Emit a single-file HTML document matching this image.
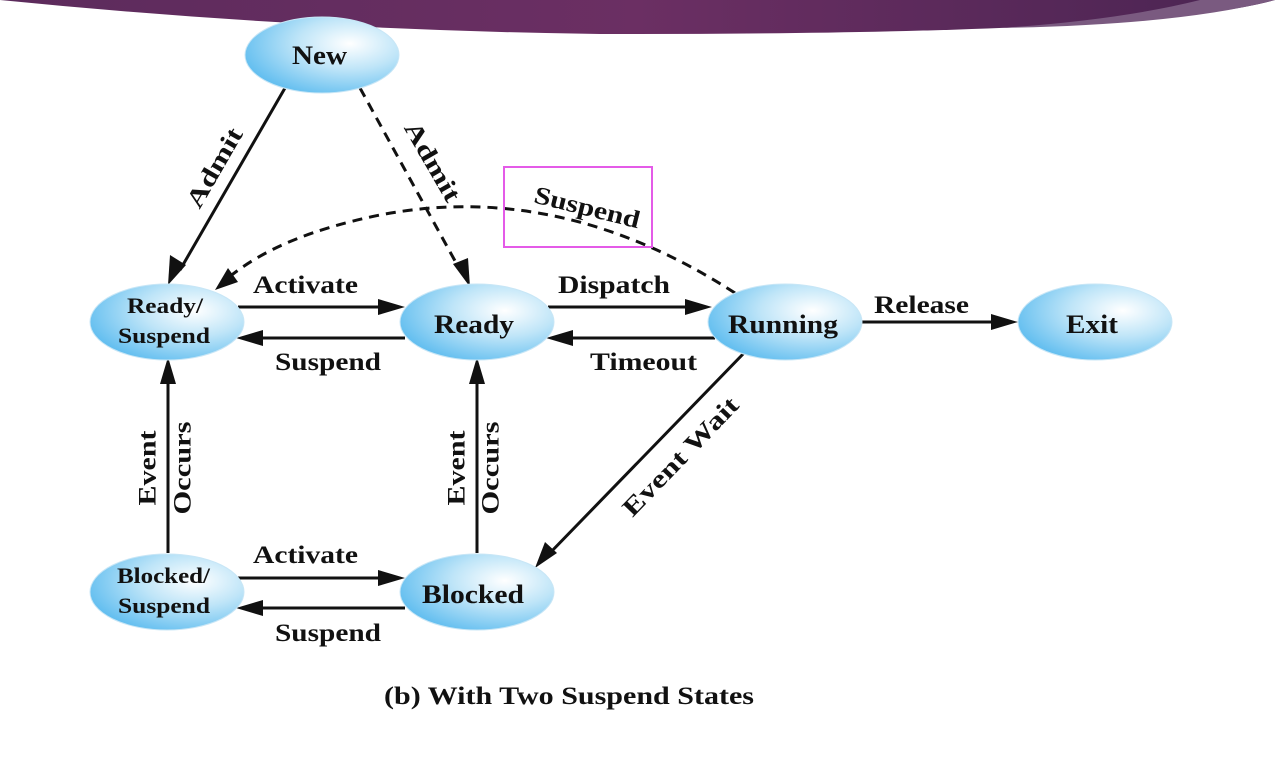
<!DOCTYPE html>
<html><head><meta charset="utf-8"><style>
body{margin:0;background:#fff;width:1280px;height:768px;overflow:hidden}
text{font-family:"Liberation Serif",serif;font-weight:bold;fill:#111}
</style></head><body>
<svg width="1280" height="768" viewBox="0 0 1280 768" xmlns="http://www.w3.org/2000/svg">
<defs>
<radialGradient id="g" cx="0.68" cy="0.35" r="0.75">
<stop offset="0" stop-color="#ffffff"/><stop offset="0.45" stop-color="#bfe5f8"/><stop offset="1" stop-color="#5dbcef"/>
</radialGradient>
<linearGradient id="p" x1="0" x2="1" y1="0" y2="0">
<stop offset="0" stop-color="#5c2b5c"/><stop offset="0.5" stop-color="#6b2f63"/><stop offset="1" stop-color="#4a2452"/>
</linearGradient>
</defs>
<path d="M0,0 L1275,0 Q1150,35 600,34 Q300,30 0,0 Z" fill="url(#p)"/>
<path d="M1000,28 Q1120,20 1200,0 L1275,0 Q1180,25 1000,28 Z" fill="#7a5a80"/>
<g stroke="#111" stroke-width="3" fill="none">
<line x1="285" y1="88" x2="180" y2="270"/>
<line x1="360" y1="88" x2="460" y2="270" stroke-dasharray="10,7"/>
<path d="M735,293 Q560,180 380,215 Q280,235 228,278" stroke-dasharray="10,7"/>
<line x1="238" y1="307" x2="385" y2="307"/>
<line x1="405" y1="338" x2="255" y2="338"/>
<line x1="548" y1="307" x2="695" y2="307"/>
<line x1="715" y1="338" x2="565" y2="338"/>
<line x1="860" y1="322" x2="1000" y2="322"/>
<line x1="745" y1="352" x2="548" y2="555"/>
<line x1="168" y1="553" x2="168" y2="375"/>
<line x1="477" y1="553" x2="477" y2="375"/>
<line x1="235" y1="578" x2="385" y2="578"/>
<line x1="405" y1="608" x2="255" y2="608"/>
</g>
<g fill="#111">
<polygon points="168,285 170,255 186,265"/>
<polygon points="470,287 453,264 468,258"/>
<polygon points="215,290 228,268 238,282"/>
<polygon points="405,307 378,299 378,315"/>
<polygon points="236,338 263,330 263,346"/>
<polygon points="712,307 685,299 685,315"/>
<polygon points="546,338 573,330 573,346"/>
<polygon points="1018,322 991,314 991,330"/>
<polygon points="535,568 545,542 557,553"/>
<polygon points="168,357 160,384 176,384"/>
<polygon points="477,357 469,384 485,384"/>
<polygon points="405,578 378,570 378,586"/>
<polygon points="236,608 263,600 263,616"/>
</g>
<g stroke="#c8e6f6" stroke-width="1">
<ellipse cx="322" cy="55" rx="77" ry="38" fill="url(#g)"/>
<ellipse cx="167" cy="322" rx="77" ry="38" fill="url(#g)"/>
<ellipse cx="477" cy="322" rx="77" ry="38" fill="url(#g)"/>
<ellipse cx="785" cy="322" rx="77" ry="38" fill="url(#g)"/>
<ellipse cx="1095" cy="322" rx="77" ry="38" fill="url(#g)"/>
<ellipse cx="167" cy="592" rx="77" ry="38" fill="url(#g)"/>
<ellipse cx="477" cy="592" rx="77" ry="38" fill="url(#g)"/>
</g>
<g font-size="26" lengthAdjust="spacingAndGlyphs">
<text x="292" y="64" textLength="55" lengthAdjust="spacingAndGlyphs">New</text>
<text x="434" y="333" textLength="80" lengthAdjust="spacingAndGlyphs">Ready</text>
<text x="728" y="333" textLength="110" lengthAdjust="spacingAndGlyphs">Running</text>
<text x="1066" y="333" textLength="52" lengthAdjust="spacingAndGlyphs">Exit</text>
<text x="422" y="603" textLength="102" lengthAdjust="spacingAndGlyphs">Blocked</text>
</g>
<g font-size="22">
<text x="127" y="313" textLength="76" lengthAdjust="spacingAndGlyphs">Ready/</text>
<text x="118" y="343" textLength="92" lengthAdjust="spacingAndGlyphs">Suspend</text>
<text x="117" y="583" textLength="93" lengthAdjust="spacingAndGlyphs">Blocked/</text>
<text x="118" y="613" textLength="92" lengthAdjust="spacingAndGlyphs">Suspend</text>
</g>
<g font-size="25">
<text x="253" y="293" textLength="105" lengthAdjust="spacingAndGlyphs">Activate</text>
<text x="275" y="370" textLength="106" lengthAdjust="spacingAndGlyphs">Suspend</text>
<text x="558" y="293" textLength="112" lengthAdjust="spacingAndGlyphs">Dispatch</text>
<text x="590" y="370" textLength="107" lengthAdjust="spacingAndGlyphs">Timeout</text>
<text x="874" y="313" textLength="95" lengthAdjust="spacingAndGlyphs">Release</text>
<text x="253" y="563" textLength="105" lengthAdjust="spacingAndGlyphs">Activate</text>
<text x="275" y="641" textLength="106" lengthAdjust="spacingAndGlyphs">Suspend</text>
<text x="384" y="704" textLength="370" lengthAdjust="spacingAndGlyphs">(b) With Two Suspend States</text>
</g>
<g font-size="25" text-anchor="middle" dominant-baseline="central">
<text transform="translate(215,168) rotate(-60)" textLength="88" lengthAdjust="spacingAndGlyphs">Admit</text>
<text transform="translate(432,162) rotate(60)" textLength="88" lengthAdjust="spacingAndGlyphs">Admit</text>
<text transform="translate(587,208) rotate(14)" textLength="108" lengthAdjust="spacingAndGlyphs">Suspend</text>
<text transform="translate(681,457) rotate(-46)" textLength="155" lengthAdjust="spacingAndGlyphs">Event Wait</text>
<text transform="translate(148,468) rotate(-90)" textLength="75" lengthAdjust="spacingAndGlyphs">Event</text>
<text transform="translate(183,468) rotate(-90)" textLength="93" lengthAdjust="spacingAndGlyphs">Occurs</text>
<text transform="translate(457,468) rotate(-90)" textLength="75" lengthAdjust="spacingAndGlyphs">Event</text>
<text transform="translate(491,468) rotate(-90)" textLength="93" lengthAdjust="spacingAndGlyphs">Occurs</text>
</g>
<rect x="504" y="167" width="148" height="80" fill="none" stroke="#e45be8" stroke-width="2"/>
</svg>
</body></html>
